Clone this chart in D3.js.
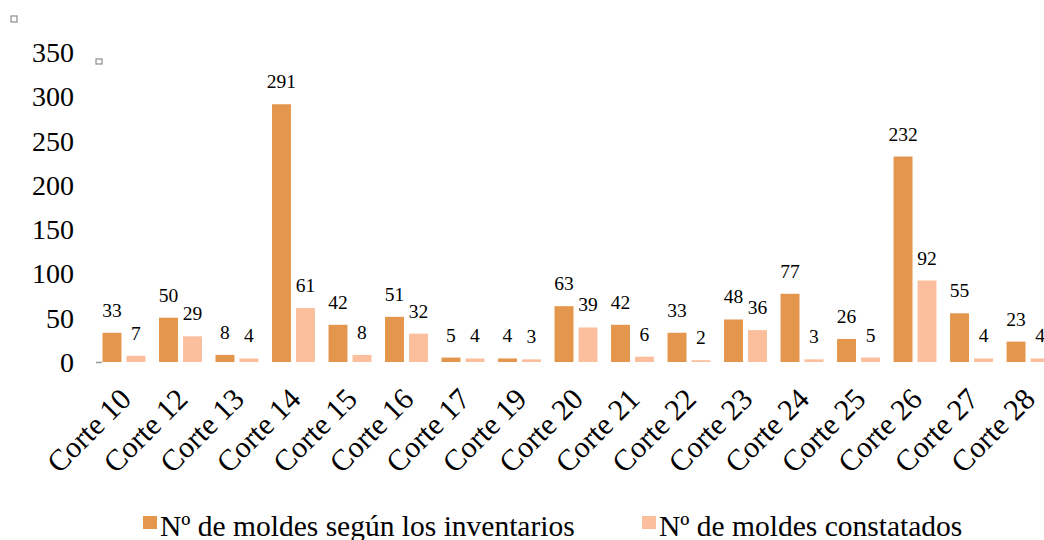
<!DOCTYPE html>
<html>
<head>
<meta charset="utf-8">
<title>Moldes por corte</title>
<style>
  body { margin: 0; background: #fff; }
  text { font-family: "Liberation Serif", "Times New Roman", serif; fill: #000; }
</style>
</head>
<body>
<script src="https://d3js.org/d3.v7.min.js"></script>
<script>

var categories = ["Corte 10", "Corte 12", "Corte 13", "Corte 14", "Corte 15", "Corte 16",
                  "Corte 17", "Corte 19", "Corte 20", "Corte 21", "Corte 22", "Corte 23",
                  "Corte 24", "Corte 25", "Corte 26", "Corte 27", "Corte 28"];
var inventarios = [33, 50, 8, 291, 42, 51, 5, 4, 63, 42, 33, 48, 77, 26, 232, 55, 23];
var constatados = [7, 29, 4, 61, 8, 32, 4, 3, 39, 6, 2, 36, 3, 5, 92, 4, 4];
var seriesNames = ["Nº de moldes según los inventarios", "Nº de moldes constatados"];
var yTicks = [0, 50, 100, 150, 200, 250, 300, 350];

var width = 1044,
    height = 540,
    colors = ["#e4964d", "#fbbf9d"];

var svg = d3.select("body").append("svg")
    .attr("width", width)
    .attr("height", height);

var x = d3.scaleBand()
    .domain(categories)
    .range([96, 1056])
    .paddingInner(0.24)
    .paddingOuter(0.115);

var xs = d3.scaleBand()
    .domain([0, 1])
    .range([0, x.bandwidth()])
    .paddingInner(0.21);

var y = d3.scaleLinear()
    .domain([0, 350])
    .range([362, 52]);

// y axis, labels only
var yAxis = svg.append("g")
    .attr("transform", "translate(74,0)")
    .call(d3.axisLeft(y).tickValues(yTicks).tickSize(0).tickPadding(0));
yAxis.select(".domain").remove();
yAxis.selectAll("text")
    .style("font-family", "'Liberation Serif', 'Times New Roman', serif")
    .style("font-size", "28px")
    .attr("dy", "0.34em");

// little stub at origin
svg.append("line")
    .attr("x1", 96).attr("x2", 102)
    .attr("y1", y(0) + 0.5).attr("y2", y(0) + 0.5)
    .attr("stroke", "#999").attr("stroke-width", 1.5);

var data = categories.map(function (c, i) {
    return { cat: c, vals: [inventarios[i], constatados[i]] };
});

var groups = svg.selectAll("g.grp")
    .data(data)
    .enter().append("g")
    .attr("class", "grp")
    .attr("transform", function (d) { return "translate(" + x(d.cat) + ",0)"; });

groups.selectAll("rect")
    .data(function (d) { return d.vals.map(function (v, k) { return { k: k, v: v }; }); })
    .enter().append("rect")
    .attr("x", function (d) { return xs(d.k); })
    .attr("width", xs.bandwidth())
    .attr("y", function (d) { return y(d.v); })
    .attr("height", function (d) { return y(0) - y(d.v); })
    .attr("fill", function (d) { return colors[d.k]; });

groups.selectAll("text.val")
    .data(function (d) { return d.vals.map(function (v, k) { return { k: k, v: v }; }); })
    .enter().append("text")
    .attr("class", "val")
    .attr("x", function (d) { return xs(d.k) + xs.bandwidth() / 2; })
    .attr("y", function (d) { return y(d.v) - 16; })
    .attr("text-anchor", "middle")
    .style("font-size", "19.5px")
    .text(function (d) { return d.v; });

// x labels rotated
svg.selectAll("text.xl")
    .data(categories)
    .enter().append("text")
    .attr("class", "xl")
    .attr("text-anchor", "end")
    .style("font-size", "30px")
    .attr("transform", function (d) {
        return "translate(" + (x(d) + x.bandwidth() / 2 - 6) + ",386) rotate(-45)";
    })
    .attr("dy", "0.7em")
    .text(function (d) { return d; });

// legend
var legendX = [143, 642];
var legend = svg.selectAll("g.leg")
    .data(seriesNames)
    .enter().append("g")
    .attr("class", "leg")
    .attr("transform", function (d, i) { return "translate(" + legendX[i] + ",0)"; });
legend.append("rect")
    .attr("x", 0).attr("y", 516)
    .attr("width", 14).attr("height", 13)
    .attr("fill", function (d, i) { return colors[i]; });
legend.append("text")
    .attr("x", 17).attr("y", 536)
    .style("font-size", "29.5px")
    .text(function (d) { return d; });

// small handle squares
[[14, 19], [99, 61]].forEach(function (p, i) {
    svg.append("rect")
        .attr("x", p[0] - 3).attr("y", p[1] - (i ? 2 : 3))
        .attr("width", 6).attr("height", i ? 5 : 6)
        .attr("fill", "#fff")
        .attr("stroke", "#8c8c8c")
        .attr("stroke-width", 1.2);
});

</script>
</body>
</html>
